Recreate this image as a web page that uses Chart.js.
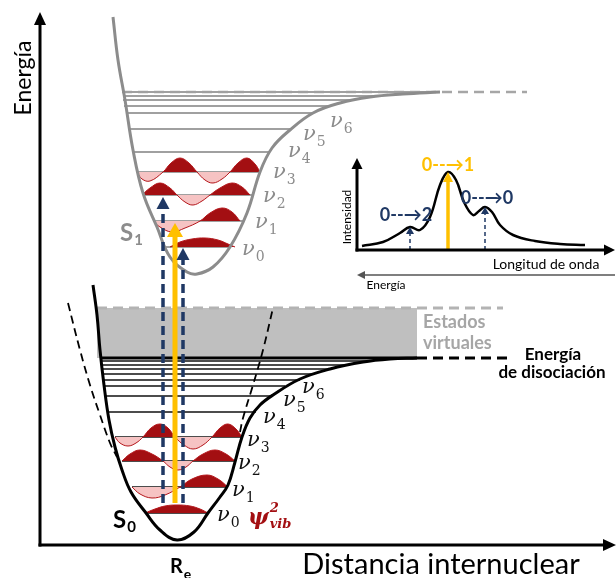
<!DOCTYPE html>
<html>
<head>
<meta charset="utf-8">
<script src="https://cdn.jsdelivr.net/npm/chart.js@4.4.1/dist/chart.umd.min.js"></script>
<style>
  html, body { margin: 0; padding: 0; background: #fff; }
  #wrap { width: 616px; height: 578px; position: relative; }
</style>
</head>
<body>
<div id="wrap"><canvas id="diagram"></canvas></div>
<script>
// ----------------------------------------------------------------------------
// Curvas de potencial S0 / S1, niveles vibracionales y espectro (inset)
// x = distancia internuclear, y = energía (unidades arbitrarias)
// ----------------------------------------------------------------------------

const NAVY = '#1f3864';
const GOLD = '#ffc000';
const GRAY = '#8c8c8c';
const WINE = '#a30f12';
const PINK = '#f6c3c3';

// --- curvas de potencial ---
const s0Curve = [[53,260],[57,230],[60,195],[64,160],[69,125],[75,98],[82,75],[91,53],[106,32],[120,15],[137,5],[154,13],[168,32],[180,48],[188,60],[195,83],[202,108],[210,127],[220,140],[233,150],[260,166],[290,176],[323,183],[350,186],[377,187]];
const s1Curve = [[73,528],[78,485],[85,445],[93,395],[103,352],[117,318],[130,288],[147,273],[157,271],[173,278],[190,298],[207,332],[220,373],[232,397],[250,415],[273,432],[300,442],[330,448],[363,451],[400,453]];
const harmonicLeft = [[28,242],[40,195],[50,160],[60,130],[70,102],[77,88]];
const harmonicRight = [[200,113],[203,127],[213,160],[223,195],[233,237]];

// --- niveles vibracionales [energía, x inicio, x fin] ---
const s0Levels = [[32,105,168],[58,92,188],[84,82,196],[108,75,202],[133,68,216],[149,65,233],[159,63,245],[165,62,260],[171,62,275],[176,61,290],[180,61,305],[184,60,330]];
const s1Levels = [[298,126,190],[324,114,203],[350,105,212],[373,98,220],[393,93,230],[416,89,251],[432,86,273],[439,84,290],[445,83,310],[449,83,340],[453,82,400]];
const dissociation = [[60,187],[377,187]];
const dissociationExt = [[377,187],[467,187]];
const s1Limit = [[82,453],[487,453]];
const virtualTop = [[57,237],[463,237]];
const virtualBand = [[57,237],[377,237]];
const virtualBottom = 187;

// --- funciones de onda [nivel, puntos] ---
const s0Waves = [
  [32, [[105,32],[115,36],[125,39],[137,40],[150,39],[160,36],[168,32]]],
  [58, [[92,58],[100,51],[112,47],[125,50],[140,58],[152,66],[167,70],[178,66],[188,58]]],
  [84, [[82,84],[90,91],[100,95],[112,91],[123,84],[130,78],[138,75],[146,78],[153,84],[163,91],[175,95],[186,91],[195,84]]],
  [108, [[75,108],[80,102],[88,99],[96,102],[103,108],[111,117],[120,121],[128,117],[135,108],[144,100],[153,96],[163,100],[172,108],[180,117],[188,121],[196,116],[202,108]]],
];
const s1Waves = [
  [298, [[130,298],[140,303],[152,306],[165,307],[178,305],[188,301],[195,298]]],
  [324, [[113,324],[120,318],[132,313],[145,317],[160,324],[170,332],[182,337],[192,333],[200,324]]],
  [350, [[102,350],[110,357],[120,362],[130,357],[137,350],[145,343],[153,340],[162,344],[170,350],[180,357],[192,362],[202,358],[210,350]]],
  [373, [[97,373],[102,366],[110,364],[123,373],[131,382],[140,387],[149,382],[157,373],[165,365],[173,362],[182,366],[190,373],[198,382],[207,387],[215,381],[220,373]]],
];

// --- espectro (inset) ---
const spectrum = [[322,299],[343,303],[360,312],[370,318],[380,315],[390,328],[400,360],[408,373],[416,365],[424,343],[433,330],[439,334],[445,338],[452,333],[460,320],[473,310],[495,304],[520,301],[545,300]];

// --- flechas ---
const arrows = [
  { from: [0,-1.5], to: [0,533], color: '#000', width: 3, head: 13, half: 6 },
  { from: [-1.5,0], to: [576,0], color: '#000', width: 3, head: 13, half: 6 },
  { from: [317,293.5], to: [317,387], color: '#000', width: 3, head: 11, half: 5.5 },
  { from: [315.5,295], to: [575,295], color: '#000', width: 3, head: 11, half: 5.5 },
  { from: [575,270], to: [317,270], color: '#555', width: 1.5, head: 8, half: 4 },
  { from: [135,42], to: [135,322], color: GOLD, width: 5, head: 14, half: 8 },
  { from: [123,42], to: [123,348], color: NAVY, width: 3.5, dash: [9,5], head: 12, half: 6.5 },
  { from: [143,42], to: [143,297], color: NAVY, width: 3.5, dash: [9,5], head: 12, half: 6.5 },
  { from: [408,295], to: [408,373], color: GOLD, width: 3.5, head: 10, half: 5 },
  { from: [370,295], to: [370,318], color: NAVY, width: 1.5, dash: [4,3], head: 7, half: 4 },
  { from: [445,295], to: [445,338], color: NAVY, width: 1.5, dash: [4,3], head: 7, half: 4 },
];

// --- textos ---
const NU = 'italic 21px "DejaVu Serif"';
const NU_SUB = '14px "DejaVu Serif"';
const s0Nu = [[177,29,'0'],[192,54,'1'],[198,81,'2'],[207,104,'3'],[223,127,'4'],[243,144,'5'],[262,157,'6']];
const s1Nu = [[202,295,'0'],[215,322,'1'],[223,348,'2'],[233,372,'3'],[248,393,'4'],[263,410,'5'],[290,423,'6']];
const labels = [
  { t: 'Energía', x: -16, y: 467, font: '23px Lato', color: '#000', rot: -90, align: 'center' },
  { t: 'Distancia internuclear', x: 401, y: -20, font: '29px Lato', color: '#000', align: 'center' },
  { t: 'R', sub: 'e', x: 130, y: -22, font: 'bold 20px Lato', subFont: 'bold 14px Lato', color: '#000' },
  { t: 'S', sub: '0', x: 73, y: 25, font: 'bold 24px Lato', subFont: 'bold 15px Lato', color: '#000' },
  { t: 'S', sub: '1', x: 80, y: 312, font: 'bold 24px Lato', subFont: 'bold 15px Lato', color: GRAY },
  { t: 'ψ', sup: '2', sub: 'vib', x: 208, y: 27, font: 'bold italic 22px "DejaVu Serif"', subFont: 'bold italic 13px "DejaVu Serif"', color: WINE },
  { t: 'Estados', x: 383, y: 223, font: 'bold 18px Lato', color: '#a6a6a6' },
  { t: 'virtuales', x: 383, y: 202, font: 'bold 18px Lato', color: '#a6a6a6' },
  { t: 'Energía', x: 513, y: 190, font: 'bold 17px Lato', color: '#000', align: 'center' },
  { t: 'de disociación', x: 512, y: 172, font: 'bold 17px Lato', color: '#000', align: 'center' },
  { t: '0--→1', x: 408, y: 380, font: 'bold 18px Lato', color: GOLD, align: 'center' },
  { t: '0--→2', x: 366, y: 330, font: 'bold 18px Lato', color: NAVY, align: 'center' },
  { t: '0--→0', x: 447, y: 347, font: 'bold 18px Lato', color: NAVY, align: 'center' },
  { t: 'Intensidad', x: 307, y: 328, font: '12px Lato', color: '#000', rot: -90, align: 'center' },
  { t: 'Longitud de onda', x: 506, y: 281, font: '14px Lato', color: '#000', align: 'center' },
  { t: 'Energía', x: 346, y: 260, font: '12px Lato', color: '#000', align: 'center' },
];
s0Nu.forEach(([x, y, n]) => labels.push({ t: 'ν', sub: n, x, y, font: NU, subFont: NU_SUB, color: '#111' }));
s1Nu.forEach(([x, y, n]) => labels.push({ t: 'ν', sub: n, x, y, font: NU, subFont: NU_SUB, color: GRAY }));

// ----------------------------------------------------------------------------

const pts = (arr) => arr.map(p => ({ x: p[0], y: p[1] }));

function line(arr, color, width, extra) {
  return Object.assign({
    data: pts(arr),
    borderColor: color,
    borderWidth: width,
    pointRadius: 0,
    fill: false,
    tension: 0,
  }, extra || {});
}

const datasets = [];

// banda de estados virtuales
datasets.push(line(virtualBand, 'rgba(0,0,0,0)', 0, {
  fill: { target: { value: virtualBottom }, above: '#bfbfbf', below: '#bfbfbf' }, order: 60,
}));
datasets.push(line(virtualTop, '#b3b3b3', 3, { borderDash: [10, 6], order: 55 }));
datasets.push(line(s1Limit, '#a6a6a6', 2.5, { borderDash: [10, 6], order: 55 }));

// niveles
s0Levels.forEach(([e, a, b]) => datasets.push(line([[a, e], [b, e]], '#111', 1.6, { order: 50 })));
s1Levels.forEach(([e, a, b]) => datasets.push(line([[a, e], [b, e]], '#a0a0a0', 2, { order: 50 })));
datasets.push(line(dissociation, '#000', 3, { order: 50 }));
datasets.push(line(dissociationExt, '#000', 3, { borderDash: [10, 6], order: 50 }));

// funciones de onda
[...s0Waves, ...s1Waves].forEach(([lvl, arr]) => datasets.push(line(arr, '#b4161b', 1, {
  tension: 0.4,
  fill: { target: { value: lvl }, above: WINE, below: PINK },
  order: 40,
})));

// curvas
datasets.push(line(s0Curve, '#000', 3, { tension: 0.4, order: 30 }));
datasets.push(line(s1Curve, GRAY, 3, { tension: 0.4, order: 30 }));
datasets.push(line(harmonicLeft, '#000', 1.8, { tension: 0.4, borderDash: [8, 5], order: 30 }));
datasets.push(line(harmonicRight, '#000', 1.8, { tension: 0.4, borderDash: [8, 5], order: 30 }));
datasets.push(line(spectrum, '#000', 2.5, { tension: 0.4, order: 30 }));

// cuerpos de flechas (terminan en la base de la punta)
arrows.forEach(a => {
  const dx = a.to[0] - a.from[0], dy = a.to[1] - a.from[1];
  const len = Math.hypot(dx, dy);
  const k = (len - a.head * 0.8) / len;
  const end = [a.from[0] + dx * k, a.from[1] + dy * k];
  datasets.push(line([a.from, end], a.color, a.width, { borderDash: a.dash || [], order: 5 }));
});

const overlay = {
  id: 'overlay',
  afterDatasetsDraw(chart) {
    const { ctx, scales: { x, y } } = chart;
    ctx.save();

    arrows.forEach(a => {
      const tx = x.getPixelForValue(a.to[0]), ty = y.getPixelForValue(a.to[1]);
      const fx = x.getPixelForValue(a.from[0]), fy = y.getPixelForValue(a.from[1]);
      const len = Math.hypot(tx - fx, ty - fy);
      const ux = (tx - fx) / len, uy = (ty - fy) / len;
      const bx = tx - ux * a.head, by = ty - uy * a.head;
      ctx.fillStyle = a.color;
      ctx.beginPath();
      ctx.moveTo(tx, ty);
      ctx.lineTo(bx - uy * a.half, by + ux * a.half);
      ctx.lineTo(bx + uy * a.half, by - ux * a.half);
      ctx.closePath();
      ctx.fill();
    });

    labels.forEach(l => {
      const px = x.getPixelForValue(l.x), py = y.getPixelForValue(l.y);
      ctx.save();
      ctx.translate(px, py);
      if (l.rot) ctx.rotate(l.rot * Math.PI / 180);
      ctx.fillStyle = l.color;
      ctx.textBaseline = 'middle';
      ctx.font = l.font;
      ctx.textAlign = l.align || 'left';
      ctx.fillText(l.t, 0, 0);
      if (l.sub || l.sup) {
        const w = ctx.measureText(l.t).width;
        ctx.textAlign = 'left';
        ctx.font = l.subFont;
        if (l.sup) ctx.fillText(l.sup, w + 1, -9);
        if (l.sub) ctx.fillText(l.sub, w + 1, 7);
      }
      ctx.restore();
    });

    ctx.restore();
  },
};

new Chart(document.getElementById('diagram'), {
  type: 'line',
  data: { datasets },
  options: {
    responsive: true,
    maintainAspectRatio: false,
    animation: false,
    events: [],
    layout: { padding: 0 },
    plugins: { legend: { display: false }, tooltip: { enabled: false } },
    elements: { line: { borderCapStyle: 'butt' }, point: { radius: 0 } },
    scales: {
      x: { type: 'linear', min: -40, max: 576, display: false },
      y: { type: 'linear', min: -33, max: 545, display: false },
    },
  },
  plugins: [overlay],
});
</script>
</body>
</html>
